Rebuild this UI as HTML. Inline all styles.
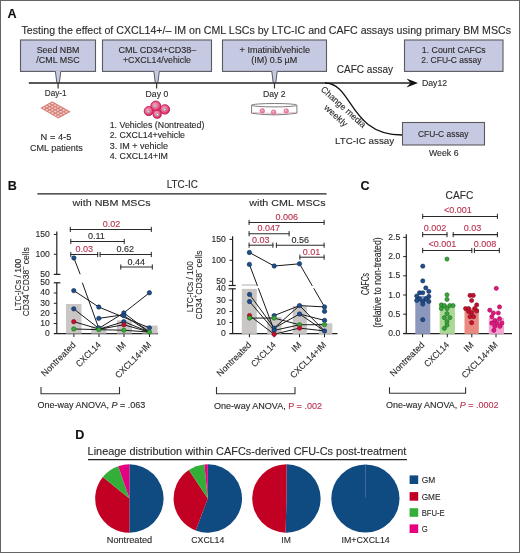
<!DOCTYPE html>
<html><head><meta charset="utf-8"><style>
html,body{margin:0;padding:0;background:#fff;}
.fig{position:relative;width:518px;height:551px;border:1px solid #646464;overflow:hidden;background:#fff;}
svg{position:absolute;left:-1px;top:-1px;will-change:transform;}
text{font-family:"Liberation Sans", sans-serif;}
</style></head><body><div class="fig">
<svg width="520" height="553" viewBox="0 0 520 553" font-family='"Liberation Sans", sans-serif' fill="#2b2a29">
<text x="7.60" y="17.90" font-size="12.6" fill="#111" stroke="#111" stroke-width="0.12" font-weight="bold">A</text>
<text x="21.50" y="33.80" font-size="10.3" stroke="#2b2a29" stroke-width="0.12" textLength="489.50" lengthAdjust="spacingAndGlyphs">Testing the effect of CXCL14+/– IM on CML LSCs by LTC-IC and CAFC assays using primary BM MSCs</text>
<rect x="20.50" y="40.00" width="75.00" height="31.40" fill="#c6c9e2" stroke="#5a5a5e" stroke-width="1.1"/>
<rect x="102.50" y="40.00" width="109.00" height="31.40" fill="#c6c9e2" stroke="#5a5a5e" stroke-width="1.1"/>
<rect x="222.50" y="40.00" width="104.00" height="31.40" fill="#c6c9e2" stroke="#5a5a5e" stroke-width="1.1"/>
<rect x="404.50" y="40.00" width="98.50" height="31.40" fill="#c6c9e2" stroke="#5a5a5e" stroke-width="1.1"/>
<path d="M55.40 70.80 L56.70 82.5 L59.50 82.5 L60.80 70.80 Z" fill="#c6c9e2" stroke="none"/>
<path d="M55.40 71.40 L56.80 82.5 M60.80 71.40 L59.40 82.5" fill="none" stroke="#5a5a5e" stroke-width="1"/>
<line x1="58.10" y1="83.00" x2="58.10" y2="88.50" stroke="#333" stroke-width="1.2"/>
<path d="M153.90 70.80 L155.20 82.5 L158.00 82.5 L159.30 70.80 Z" fill="#c6c9e2" stroke="none"/>
<path d="M153.90 71.40 L155.30 82.5 M159.30 71.40 L157.90 82.5" fill="none" stroke="#5a5a5e" stroke-width="1"/>
<line x1="156.60" y1="83.00" x2="156.60" y2="88.50" stroke="#333" stroke-width="1.2"/>
<path d="M271.80 70.80 L273.10 82.5 L275.90 82.5 L277.20 70.80 Z" fill="#c6c9e2" stroke="none"/>
<path d="M271.80 71.40 L273.20 82.5 M277.20 71.40 L275.80 82.5" fill="none" stroke="#5a5a5e" stroke-width="1"/>
<line x1="274.50" y1="83.00" x2="274.50" y2="88.50" stroke="#333" stroke-width="1.2"/>
<text x="36.70" y="52.70" font-size="8.4" stroke="#2b2a29" stroke-width="0.12" textLength="42.70" lengthAdjust="spacingAndGlyphs">Seed NBM</text>
<text x="36.30" y="63.10" font-size="8.4" stroke="#2b2a29" stroke-width="0.12" textLength="43.30" lengthAdjust="spacingAndGlyphs">/CML MSC</text>
<text x="118.50" y="52.80" font-size="8.4" stroke="#2b2a29" stroke-width="0.12" textLength="77.80" lengthAdjust="spacingAndGlyphs">CML CD34+CD38–</text>
<text x="123.00" y="63.30" font-size="8.4" stroke="#2b2a29" stroke-width="0.12" textLength="68.00" lengthAdjust="spacingAndGlyphs">+CXCL14/vehicle</text>
<text x="239.60" y="53.00" font-size="8.4" stroke="#2b2a29" stroke-width="0.12" textLength="70.40" lengthAdjust="spacingAndGlyphs">+ Imatinib/vehicle</text>
<text x="251.20" y="63.40" font-size="8.4" stroke="#2b2a29" stroke-width="0.12" textLength="46.10" lengthAdjust="spacingAndGlyphs">(IM) 0.5 µM</text>
<text x="421.80" y="53.10" font-size="8.4" stroke="#2b2a29" stroke-width="0.12" textLength="63.90" lengthAdjust="spacingAndGlyphs">1. Count CAFCs</text>
<text x="421.20" y="63.40" font-size="8.4" stroke="#2b2a29" stroke-width="0.12" textLength="60.20" lengthAdjust="spacingAndGlyphs">2. CFU-C assay</text>
<line x1="28.80" y1="83.00" x2="410.00" y2="83.00" stroke="#222" stroke-width="1.6"/>
<path d="M418 83 L406.5 78.6 L410.5 83 L406.5 87.6 Z" fill="#111"/>
<text x="421.90" y="85.90" font-size="8.6" stroke="#2b2a29" stroke-width="0.12" textLength="25.20" lengthAdjust="spacingAndGlyphs">Day12</text>
<text x="336.80" y="72.70" font-size="10.2" stroke="#2b2a29" stroke-width="0.12" textLength="56.20" lengthAdjust="spacingAndGlyphs">CAFC assay</text>
<path d="M325 83 C353 83, 349 135, 402 135" fill="none" stroke="#111" stroke-width="1.3"/>
<rect x="402.50" y="122.50" width="82.00" height="22.50" fill="#c6c9e2" stroke="#5a5a5e" stroke-width="1.1"/>
<text x="418.00" y="136.50" font-size="9.0" stroke="#2b2a29" stroke-width="0.12" textLength="50.50" lengthAdjust="spacingAndGlyphs">CFU-C assay</text>
<text x="429.00" y="156.20" font-size="8.2" stroke="#2b2a29" stroke-width="0.12" textLength="29.50" lengthAdjust="spacingAndGlyphs">Week 6</text>
<text x="335.00" y="143.80" font-size="9.8" stroke="#2b2a29" stroke-width="0.12" textLength="59.20" lengthAdjust="spacingAndGlyphs">LTC-IC assay</text>
<text x="320.30" y="90.20" font-size="9.0" stroke="#2b2a29" stroke-width="0.12" textLength="57.00" lengthAdjust="spacingAndGlyphs" transform="rotate(42 320.30 90.20)">Change media</text>
<text x="323.60" y="108.60" font-size="9.0" stroke="#2b2a29" stroke-width="0.12" textLength="28.00" lengthAdjust="spacingAndGlyphs" transform="rotate(42 323.60 108.60)">weekly</text>
<text x="44.80" y="96.30" font-size="8.6" stroke="#2b2a29" stroke-width="0.12" textLength="21.70" lengthAdjust="spacingAndGlyphs">Day-1</text>
<text x="145.60" y="96.70" font-size="8.6" stroke="#2b2a29" stroke-width="0.12" textLength="22.60" lengthAdjust="spacingAndGlyphs">Day 0</text>
<text x="263.00" y="96.80" font-size="8.6" stroke="#2b2a29" stroke-width="0.12" textLength="22.70" lengthAdjust="spacingAndGlyphs">Day 2</text>
<polygon points="40.2,108 52.2,101.3 70.8,111.8 58.3,118.6" fill="#d98a82"/>
<ellipse cx="44.09" cy="108.09" rx="1.55" ry="1.25" fill="#f6cdc6" stroke="#c4615a" stroke-width="0.45"/>
<ellipse cx="46.92" cy="109.75" rx="1.55" ry="1.25" fill="#f6cdc6" stroke="#c4615a" stroke-width="0.45"/>
<ellipse cx="49.75" cy="111.41" rx="1.55" ry="1.25" fill="#f6cdc6" stroke="#c4615a" stroke-width="0.45"/>
<ellipse cx="52.57" cy="113.06" rx="1.55" ry="1.25" fill="#f6cdc6" stroke="#c4615a" stroke-width="0.45"/>
<ellipse cx="55.40" cy="114.72" rx="1.55" ry="1.25" fill="#f6cdc6" stroke="#c4615a" stroke-width="0.45"/>
<ellipse cx="58.23" cy="116.37" rx="1.55" ry="1.25" fill="#f6cdc6" stroke="#c4615a" stroke-width="0.45"/>
<ellipse cx="46.82" cy="106.57" rx="1.55" ry="1.25" fill="#f6cdc6" stroke="#c4615a" stroke-width="0.45"/>
<ellipse cx="49.64" cy="108.23" rx="1.55" ry="1.25" fill="#f6cdc6" stroke="#c4615a" stroke-width="0.45"/>
<ellipse cx="52.47" cy="109.88" rx="1.55" ry="1.25" fill="#f6cdc6" stroke="#c4615a" stroke-width="0.45"/>
<ellipse cx="55.30" cy="111.54" rx="1.55" ry="1.25" fill="#f6cdc6" stroke="#c4615a" stroke-width="0.45"/>
<ellipse cx="58.13" cy="113.20" rx="1.55" ry="1.25" fill="#f6cdc6" stroke="#c4615a" stroke-width="0.45"/>
<ellipse cx="60.96" cy="114.85" rx="1.55" ry="1.25" fill="#f6cdc6" stroke="#c4615a" stroke-width="0.45"/>
<ellipse cx="49.54" cy="105.05" rx="1.55" ry="1.25" fill="#f6cdc6" stroke="#c4615a" stroke-width="0.45"/>
<ellipse cx="52.37" cy="106.70" rx="1.55" ry="1.25" fill="#f6cdc6" stroke="#c4615a" stroke-width="0.45"/>
<ellipse cx="55.20" cy="108.36" rx="1.55" ry="1.25" fill="#f6cdc6" stroke="#c4615a" stroke-width="0.45"/>
<ellipse cx="58.03" cy="110.02" rx="1.55" ry="1.25" fill="#f6cdc6" stroke="#c4615a" stroke-width="0.45"/>
<ellipse cx="60.86" cy="111.67" rx="1.55" ry="1.25" fill="#f6cdc6" stroke="#c4615a" stroke-width="0.45"/>
<ellipse cx="63.68" cy="113.33" rx="1.55" ry="1.25" fill="#f6cdc6" stroke="#c4615a" stroke-width="0.45"/>
<ellipse cx="52.27" cy="103.53" rx="1.55" ry="1.25" fill="#f6cdc6" stroke="#c4615a" stroke-width="0.45"/>
<ellipse cx="55.10" cy="105.18" rx="1.55" ry="1.25" fill="#f6cdc6" stroke="#c4615a" stroke-width="0.45"/>
<ellipse cx="57.93" cy="106.84" rx="1.55" ry="1.25" fill="#f6cdc6" stroke="#c4615a" stroke-width="0.45"/>
<ellipse cx="60.75" cy="108.49" rx="1.55" ry="1.25" fill="#f6cdc6" stroke="#c4615a" stroke-width="0.45"/>
<ellipse cx="63.58" cy="110.15" rx="1.55" ry="1.25" fill="#f6cdc6" stroke="#c4615a" stroke-width="0.45"/>
<ellipse cx="66.41" cy="111.81" rx="1.55" ry="1.25" fill="#f6cdc6" stroke="#c4615a" stroke-width="0.45"/>
<text x="40.60" y="139.80" font-size="8.8" stroke="#2b2a29" stroke-width="0.12" textLength="30.70" lengthAdjust="spacingAndGlyphs">N = 4-5</text>
<text x="30.00" y="150.50" font-size="8.8" stroke="#2b2a29" stroke-width="0.12" textLength="52.80" lengthAdjust="spacingAndGlyphs">CML patients</text>
<defs><radialGradient id="cg" cx="0.42" cy="0.4" r="0.6"><stop offset="0" stop-color="#f7a9c0"/><stop offset="0.6" stop-color="#ec5f8a"/><stop offset="1" stop-color="#d1215a"/></radialGradient></defs>
<circle cx="155.80" cy="106.10" r="5.0" fill="url(#cg)" stroke="#c81d55" stroke-width="1.0"/>
<circle cx="148.70" cy="111.10" r="4.5" fill="url(#cg)" stroke="#c81d55" stroke-width="1.0"/>
<circle cx="164.90" cy="109.40" r="4.7" fill="url(#cg)" stroke="#c81d55" stroke-width="1.0"/>
<circle cx="157.20" cy="114.20" r="4.1" fill="url(#cg)" stroke="#c81d55" stroke-width="1.0"/>
<circle cx="148.40" cy="111.80" r="1.3" fill="#b7c4d2" stroke="#7f8fa3" stroke-width="0.5"/>
<circle cx="148.10" cy="111.50" r="0.5" fill="#ffffff"/>
<circle cx="155.30" cy="106.00" r="1.3" fill="#b7c4d2" stroke="#7f8fa3" stroke-width="0.5"/>
<circle cx="155.00" cy="105.70" r="0.5" fill="#ffffff"/>
<circle cx="164.60" cy="109.60" r="1.3" fill="#b7c4d2" stroke="#7f8fa3" stroke-width="0.5"/>
<circle cx="164.30" cy="109.30" r="0.5" fill="#ffffff"/>
<circle cx="157.60" cy="114.80" r="1.3" fill="#b7c4d2" stroke="#7f8fa3" stroke-width="0.5"/>
<circle cx="157.30" cy="114.50" r="0.5" fill="#ffffff"/>
<text x="109.70" y="128.10" font-size="8.4" stroke="#2b2a29" stroke-width="0.12" textLength="94.70" lengthAdjust="spacingAndGlyphs">1. Vehicles (Nontreated)</text>
<text x="109.70" y="138.40" font-size="8.4" stroke="#2b2a29" stroke-width="0.12" textLength="75.30" lengthAdjust="spacingAndGlyphs">2. CXCL14+vehicle</text>
<text x="109.70" y="148.80" font-size="8.4" stroke="#2b2a29" stroke-width="0.12" textLength="58.30" lengthAdjust="spacingAndGlyphs">3. IM + vehicle</text>
<text x="109.70" y="159.30" font-size="8.4" stroke="#2b2a29" stroke-width="0.12" textLength="58.30" lengthAdjust="spacingAndGlyphs">4. CXCL14+IM</text>
<path d="M251.6 105.2 L251.6 113.2 Q274 116.6 296.9 113.2 L296.9 105.2" fill="#fff" stroke="#7d7d7d" stroke-width="1.0"/>
<ellipse cx="274.25" cy="105.2" rx="22.65" ry="1.7" fill="#fff" stroke="#7d7d7d" stroke-width="1.0"/>
<path d="M252.5 112.3 Q274 115.2 296 112.3" fill="none" stroke="#e9b3c4" stroke-width="0.8"/>
<circle cx="262.30" cy="110.90" r="2.3" fill="#e98aac" stroke="#d4557f" stroke-width="0.6"/>
<circle cx="261.80" cy="110.30" r="0.8" fill="#f8c8d7"/>
<circle cx="273.60" cy="112.20" r="2.3" fill="#e98aac" stroke="#d4557f" stroke-width="0.6"/>
<circle cx="273.10" cy="111.60" r="0.8" fill="#f8c8d7"/>
<circle cx="286.20" cy="111.00" r="2.3" fill="#e98aac" stroke="#d4557f" stroke-width="0.6"/>
<circle cx="285.70" cy="110.40" r="0.8" fill="#f8c8d7"/>
<text x="7.80" y="189.60" font-size="12.6" fill="#111" stroke="#111" stroke-width="0.12" font-weight="bold">B</text>
<text x="166.70" y="187.80" font-size="10.0" stroke="#2b2a29" stroke-width="0.12" textLength="31.20" lengthAdjust="spacingAndGlyphs">LTC-IC</text>
<line x1="37.40" y1="193.80" x2="326.60" y2="193.80" stroke="#222" stroke-width="1.2"/>
<text x="72.60" y="206.20" font-size="9.8" stroke="#2b2a29" stroke-width="0.12" textLength="78.00" lengthAdjust="spacingAndGlyphs">with NBM MSCs</text>
<text x="249.30" y="206.20" font-size="9.8" stroke="#2b2a29" stroke-width="0.12" textLength="76.30" lengthAdjust="spacingAndGlyphs">with CML MSCs</text>
<text x="49.90" y="236.90" font-size="8.6" text-anchor="end" stroke="#2b2a29" stroke-width="0.12">150</text>
<text x="49.90" y="256.70" font-size="8.6" text-anchor="end" stroke="#2b2a29" stroke-width="0.12">100</text>
<text x="49.90" y="276.70" font-size="8.6" text-anchor="end" stroke="#2b2a29" stroke-width="0.12">50</text>
<text x="49.90" y="285.00" font-size="8.6" text-anchor="end" stroke="#2b2a29" stroke-width="0.12">50</text>
<text x="49.90" y="295.40" font-size="8.6" text-anchor="end" stroke="#2b2a29" stroke-width="0.12">40</text>
<text x="49.90" y="305.70" font-size="8.6" text-anchor="end" stroke="#2b2a29" stroke-width="0.12">30</text>
<text x="49.90" y="315.80" font-size="8.6" text-anchor="end" stroke="#2b2a29" stroke-width="0.12">20</text>
<text x="49.90" y="325.90" font-size="8.6" text-anchor="end" stroke="#2b2a29" stroke-width="0.12">10</text>
<text x="49.90" y="336.00" font-size="8.6" text-anchor="end" stroke="#2b2a29" stroke-width="0.12">0</text>
<line x1="53.80" y1="234.50" x2="56.80" y2="234.50" stroke="#222" stroke-width="1"/>
<line x1="53.80" y1="254.30" x2="56.80" y2="254.30" stroke="#222" stroke-width="1"/>
<line x1="53.80" y1="293.00" x2="56.80" y2="293.00" stroke="#222" stroke-width="1"/>
<line x1="53.80" y1="303.30" x2="56.80" y2="303.30" stroke="#222" stroke-width="1"/>
<line x1="53.80" y1="313.40" x2="56.80" y2="313.40" stroke="#222" stroke-width="1"/>
<line x1="53.80" y1="323.50" x2="56.80" y2="323.50" stroke="#222" stroke-width="1"/>
<line x1="56.80" y1="231.50" x2="56.80" y2="274.40" stroke="#222" stroke-width="1.2"/>
<line x1="53.80" y1="274.40" x2="60.40" y2="274.40" stroke="#222" stroke-width="1.2"/>
<line x1="56.80" y1="282.60" x2="56.80" y2="333.60" stroke="#222" stroke-width="1.2"/>
<line x1="53.80" y1="282.80" x2="60.40" y2="282.80" stroke="#222" stroke-width="1.2"/>
<line x1="53.80" y1="333.60" x2="158.00" y2="333.60" stroke="#222" stroke-width="1.3"/>
<line x1="73.90" y1="333.60" x2="73.90" y2="337.00" stroke="#222" stroke-width="1"/>
<line x1="99.00" y1="333.60" x2="99.00" y2="337.00" stroke="#222" stroke-width="1"/>
<line x1="124.00" y1="333.60" x2="124.00" y2="337.00" stroke="#222" stroke-width="1"/>
<line x1="149.50" y1="333.60" x2="149.50" y2="337.00" stroke="#222" stroke-width="1"/>
<rect x="66.00" y="304.00" width="15.50" height="29.60" fill="#cac6c6"/>
<rect x="91.20" y="326.50" width="15.20" height="7.10" fill="#cac6c6"/>
<rect x="116.90" y="320.30" width="15.00" height="13.30" fill="#cac6c6"/>
<rect x="142.40" y="325.60" width="15.20" height="8.00" fill="#cac6c6"/>
<line x1="82.35" y1="282.74" x2="98.80" y2="328.41" stroke="#1a1a1a" stroke-width="1.0"/>
<line x1="73.77" y1="290.60" x2="98.80" y2="307.04" stroke="#1a1a1a" stroke-width="1.0"/>
<line x1="98.80" y1="307.04" x2="149.40" y2="327.86" stroke="#1a1a1a" stroke-width="1.0"/>
<line x1="73.77" y1="308.86" x2="98.80" y2="328.41" stroke="#1a1a1a" stroke-width="1.0"/>
<line x1="73.77" y1="321.65" x2="98.80" y2="328.96" stroke="#1a1a1a" stroke-width="1.0"/>
<line x1="73.77" y1="328.96" x2="98.80" y2="329.69" stroke="#1a1a1a" stroke-width="1.0"/>
<line x1="98.80" y1="318.36" x2="123.82" y2="314.71" stroke="#1a1a1a" stroke-width="1.0"/>
<line x1="98.80" y1="328.41" x2="123.82" y2="312.88" stroke="#1a1a1a" stroke-width="1.0"/>
<line x1="123.82" y1="312.88" x2="149.40" y2="292.79" stroke="#1a1a1a" stroke-width="1.0"/>
<line x1="98.80" y1="329.32" x2="123.82" y2="321.65" stroke="#1a1a1a" stroke-width="1.0"/>
<line x1="98.80" y1="329.69" x2="123.82" y2="330.24" stroke="#1a1a1a" stroke-width="1.0"/>
<line x1="123.82" y1="315.62" x2="149.40" y2="332.06" stroke="#1a1a1a" stroke-width="1.0"/>
<line x1="123.82" y1="321.65" x2="149.40" y2="332.06" stroke="#1a1a1a" stroke-width="1.0"/>
<line x1="123.82" y1="324.76" x2="149.40" y2="332.06" stroke="#1a1a1a" stroke-width="1.0"/>
<line x1="123.82" y1="330.24" x2="149.40" y2="332.06" stroke="#1a1a1a" stroke-width="1.0"/>
<line x1="98.80" y1="329.32" x2="123.82" y2="324.76" stroke="#1a1a1a" stroke-width="1.0"/>
<line x1="123.82" y1="312.88" x2="149.40" y2="332.06" stroke="#1a1a1a" stroke-width="1.0"/>
<line x1="73.90" y1="258.00" x2="80.20" y2="274.20" stroke="#1a1a1a" stroke-width="1.0"/>
<circle cx="73.77" cy="290.60" r="2.2" fill="#1d4f8c" stroke="#0d2a52" stroke-width="0.6"/>
<circle cx="73.77" cy="308.86" r="2.2" fill="#1d4f8c" stroke="#0d2a52" stroke-width="0.6"/>
<circle cx="73.77" cy="321.65" r="2.2" fill="#c8102e" stroke="#7a0a1c" stroke-width="0.6"/>
<circle cx="73.77" cy="328.96" r="2.2" fill="#3aaa35" stroke="#1f6e22" stroke-width="0.6"/>
<circle cx="98.80" cy="307.04" r="2.2" fill="#1d4f8c" stroke="#0d2a52" stroke-width="0.6"/>
<circle cx="98.80" cy="318.36" r="2.2" fill="#1d4f8c" stroke="#0d2a52" stroke-width="0.6"/>
<circle cx="98.80" cy="327.86" r="2.2" fill="#1d4f8c" stroke="#0d2a52" stroke-width="0.6"/>
<circle cx="98.80" cy="329.69" r="2.2" fill="#3aaa35" stroke="#1f6e22" stroke-width="0.6"/>
<circle cx="123.82" cy="312.88" r="2.2" fill="#1d4f8c" stroke="#0d2a52" stroke-width="0.6"/>
<circle cx="123.82" cy="315.62" r="2.2" fill="#1d4f8c" stroke="#0d2a52" stroke-width="0.6"/>
<circle cx="123.82" cy="321.65" r="2.2" fill="#1d4f8c" stroke="#0d2a52" stroke-width="0.6"/>
<circle cx="123.82" cy="324.76" r="2.2" fill="#c8102e" stroke="#7a0a1c" stroke-width="0.6"/>
<circle cx="123.82" cy="330.24" r="2.2" fill="#3aaa35" stroke="#1f6e22" stroke-width="0.6"/>
<circle cx="149.40" cy="292.79" r="2.2" fill="#1d4f8c" stroke="#0d2a52" stroke-width="0.6"/>
<circle cx="149.40" cy="327.86" r="2.2" fill="#1d4f8c" stroke="#0d2a52" stroke-width="0.6"/>
<circle cx="149.40" cy="332.06" r="2.2" fill="#3aaa35" stroke="#1f6e22" stroke-width="0.6"/>
<circle cx="73.90" cy="258.00" r="2.2" fill="#1d4f8c" stroke="#0d2a52" stroke-width="0.6"/>
<line x1="69.80" y1="229.40" x2="151.80" y2="229.40" stroke="#2a2a2a" stroke-width="1.05"/>
<line x1="70.30" y1="226.80" x2="70.30" y2="232.00" stroke="#2a2a2a" stroke-width="1.0"/>
<line x1="151.30" y1="226.80" x2="151.30" y2="232.00" stroke="#2a2a2a" stroke-width="1.0"/>
<text x="111.50" y="226.90" font-size="9.0" text-anchor="middle" fill="#b8324e" stroke="#b8324e" stroke-width="0.12">0.02</text>
<line x1="70.30" y1="241.50" x2="124.70" y2="241.50" stroke="#2a2a2a" stroke-width="1.05"/>
<line x1="70.80" y1="238.90" x2="70.80" y2="244.10" stroke="#2a2a2a" stroke-width="1.0"/>
<line x1="124.20" y1="238.90" x2="124.20" y2="244.10" stroke="#2a2a2a" stroke-width="1.0"/>
<text x="96.40" y="239.00" font-size="9.0" text-anchor="middle" stroke="#2b2a29" stroke-width="0.12">0.11</text>
<line x1="70.30" y1="254.50" x2="98.20" y2="254.50" stroke="#2a2a2a" stroke-width="1.05"/>
<line x1="70.80" y1="251.90" x2="70.80" y2="257.10" stroke="#2a2a2a" stroke-width="1.0"/>
<line x1="97.70" y1="251.90" x2="97.70" y2="257.10" stroke="#2a2a2a" stroke-width="1.0"/>
<text x="84.20" y="252.00" font-size="9.0" text-anchor="middle" fill="#b8324e" stroke="#b8324e" stroke-width="0.12">0.03</text>
<line x1="99.60" y1="254.50" x2="151.80" y2="254.50" stroke="#2a2a2a" stroke-width="1.05"/>
<line x1="100.10" y1="251.90" x2="100.10" y2="257.10" stroke="#2a2a2a" stroke-width="1.0"/>
<line x1="151.30" y1="251.90" x2="151.30" y2="257.10" stroke="#2a2a2a" stroke-width="1.0"/>
<text x="125.20" y="252.00" font-size="9.0" text-anchor="middle" stroke="#2b2a29" stroke-width="0.12">0.62</text>
<line x1="120.30" y1="267.00" x2="152.80" y2="267.00" stroke="#2a2a2a" stroke-width="1.05"/>
<line x1="120.80" y1="264.40" x2="120.80" y2="269.60" stroke="#2a2a2a" stroke-width="1.0"/>
<line x1="152.30" y1="264.40" x2="152.30" y2="269.60" stroke="#2a2a2a" stroke-width="1.0"/>
<text x="136.20" y="264.50" font-size="9.0" text-anchor="middle" stroke="#2b2a29" stroke-width="0.12">0.44</text>
<text x="20.70" y="284.70" font-size="9.8" text-anchor="middle" stroke="#2b2a29" stroke-width="0.12" textLength="52.00" lengthAdjust="spacingAndGlyphs" transform="rotate(-90 20.70 284.70)">LTC-ICs / 100</text>
<text x="29.1" y="281.8" font-size="9.8" text-anchor="middle" textLength="69.0" lengthAdjust="spacingAndGlyphs" stroke="#2b2a29" stroke-width="0.12" transform="rotate(-90 29.1 281.8)">CD34<tspan font-size="6.5" dy="-3.6">+</tspan><tspan dy="3.6">CD38</tspan><tspan font-size="6.5" dy="-3.6">–</tspan><tspan dy="3.6"> cells</tspan></text>
<text x="225.90" y="241.90" font-size="8.6" text-anchor="end" stroke="#2b2a29" stroke-width="0.12">150</text>
<text x="225.90" y="262.80" font-size="8.6" text-anchor="end" stroke="#2b2a29" stroke-width="0.12">100</text>
<text x="225.90" y="283.80" font-size="8.6" text-anchor="end" stroke="#2b2a29" stroke-width="0.12">50</text>
<text x="225.90" y="291.40" font-size="8.6" text-anchor="end" stroke="#2b2a29" stroke-width="0.12">40</text>
<text x="225.90" y="302.70" font-size="8.6" text-anchor="end" stroke="#2b2a29" stroke-width="0.12">30</text>
<text x="225.90" y="314.00" font-size="8.6" text-anchor="end" stroke="#2b2a29" stroke-width="0.12">20</text>
<text x="225.90" y="325.00" font-size="8.6" text-anchor="end" stroke="#2b2a29" stroke-width="0.12">10</text>
<text x="225.90" y="336.40" font-size="8.6" text-anchor="end" stroke="#2b2a29" stroke-width="0.12">0</text>
<line x1="229.50" y1="239.40" x2="232.60" y2="239.40" stroke="#222" stroke-width="1"/>
<line x1="229.50" y1="260.30" x2="232.60" y2="260.30" stroke="#222" stroke-width="1"/>
<line x1="229.50" y1="281.30" x2="232.60" y2="281.30" stroke="#222" stroke-width="1"/>
<line x1="229.50" y1="300.20" x2="232.60" y2="300.20" stroke="#222" stroke-width="1"/>
<line x1="229.50" y1="311.50" x2="232.60" y2="311.50" stroke="#222" stroke-width="1"/>
<line x1="229.50" y1="322.50" x2="232.60" y2="322.50" stroke="#222" stroke-width="1"/>
<line x1="232.60" y1="236.20" x2="232.60" y2="285.60" stroke="#222" stroke-width="1.2"/>
<line x1="232.60" y1="288.60" x2="232.60" y2="333.90" stroke="#222" stroke-width="1.2"/>
<line x1="228.60" y1="285.50" x2="235.80" y2="285.50" stroke="#222" stroke-width="1.2"/>
<line x1="228.60" y1="288.80" x2="235.80" y2="288.80" stroke="#222" stroke-width="1.2"/>
<line x1="229.30" y1="333.60" x2="337.50" y2="333.60" stroke="#222" stroke-width="1.3"/>
<line x1="249.40" y1="333.90" x2="249.40" y2="337.30" stroke="#222" stroke-width="1"/>
<line x1="274.20" y1="333.90" x2="274.20" y2="337.30" stroke="#222" stroke-width="1"/>
<line x1="299.50" y1="333.90" x2="299.50" y2="337.30" stroke="#222" stroke-width="1"/>
<line x1="324.50" y1="333.90" x2="324.50" y2="337.30" stroke="#222" stroke-width="1"/>
<rect x="241.80" y="288.80" width="15.00" height="45.10" fill="#cac6c6"/>
<rect x="241.80" y="284.30" width="15.00" height="1.50" fill="#cac6c6"/>
<rect x="267.20" y="317.00" width="14.20" height="16.90" fill="#cac6c6"/>
<rect x="292.80" y="306.00" width="14.00" height="27.90" fill="#cac6c6"/>
<rect x="318.80" y="323.30" width="13.50" height="10.60" fill="#cac6c6"/>
<line x1="249.54" y1="294.42" x2="274.15" y2="328.08" stroke="#1a1a1a" stroke-width="1.0"/>
<line x1="249.54" y1="301.54" x2="274.15" y2="330.38" stroke="#1a1a1a" stroke-width="1.0"/>
<line x1="249.54" y1="315.58" x2="274.15" y2="334.23" stroke="#1a1a1a" stroke-width="1.0"/>
<line x1="249.54" y1="318.08" x2="274.15" y2="318.08" stroke="#1a1a1a" stroke-width="1.0"/>
<line x1="274.15" y1="315.58" x2="299.54" y2="305.58" stroke="#1a1a1a" stroke-width="1.0"/>
<line x1="299.54" y1="305.58" x2="324.54" y2="306.92" stroke="#1a1a1a" stroke-width="1.0"/>
<line x1="299.54" y1="305.58" x2="324.54" y2="330.96" stroke="#1a1a1a" stroke-width="1.0"/>
<line x1="274.15" y1="328.08" x2="299.54" y2="305.58" stroke="#1a1a1a" stroke-width="1.0"/>
<line x1="274.15" y1="328.08" x2="299.54" y2="314.04" stroke="#1a1a1a" stroke-width="1.0"/>
<line x1="299.54" y1="314.04" x2="324.54" y2="330.96" stroke="#1a1a1a" stroke-width="1.0"/>
<line x1="274.15" y1="330.38" x2="299.54" y2="324.81" stroke="#1a1a1a" stroke-width="1.0"/>
<line x1="274.15" y1="334.23" x2="299.54" y2="328.08" stroke="#1a1a1a" stroke-width="1.0"/>
<line x1="299.54" y1="328.08" x2="324.54" y2="330.96" stroke="#1a1a1a" stroke-width="1.0"/>
<line x1="299.54" y1="324.81" x2="324.54" y2="324.62" stroke="#1a1a1a" stroke-width="1.0"/>
<line x1="274.15" y1="318.08" x2="299.54" y2="324.81" stroke="#1a1a1a" stroke-width="1.0"/>
<line x1="299.54" y1="314.04" x2="324.54" y2="320.38" stroke="#1a1a1a" stroke-width="1.0"/>
<line x1="249.40" y1="252.50" x2="274.20" y2="266.00" stroke="#1a1a1a" stroke-width="1.0"/>
<line x1="274.20" y1="266.00" x2="299.50" y2="263.80" stroke="#1a1a1a" stroke-width="1.0"/>
<line x1="299.50" y1="263.80" x2="324.50" y2="306.90" stroke="#1a1a1a" stroke-width="1.0"/>
<line x1="249.40" y1="264.40" x2="274.20" y2="330.40" stroke="#1a1a1a" stroke-width="1.0"/>
<rect x="237" y="285.9" width="100" height="2.4" fill="#fff"/>
<circle cx="249.54" cy="294.42" r="2.2" fill="#1d4f8c" stroke="#0d2a52" stroke-width="0.6"/>
<circle cx="249.54" cy="301.54" r="2.2" fill="#1d4f8c" stroke="#0d2a52" stroke-width="0.6"/>
<circle cx="249.54" cy="315.58" r="2.2" fill="#c8102e" stroke="#7a0a1c" stroke-width="0.6"/>
<circle cx="249.54" cy="318.08" r="2.2" fill="#3aaa35" stroke="#1f6e22" stroke-width="0.6"/>
<circle cx="274.15" cy="315.58" r="2.2" fill="#1d4f8c" stroke="#0d2a52" stroke-width="0.6"/>
<circle cx="274.15" cy="318.08" r="2.2" fill="#3aaa35" stroke="#1f6e22" stroke-width="0.6"/>
<circle cx="274.15" cy="328.08" r="2.2" fill="#1d4f8c" stroke="#0d2a52" stroke-width="0.6"/>
<circle cx="274.15" cy="330.38" r="2.2" fill="#1d4f8c" stroke="#0d2a52" stroke-width="0.6"/>
<circle cx="274.15" cy="334.23" r="2.2" fill="#c8102e" stroke="#7a0a1c" stroke-width="0.6"/>
<circle cx="299.54" cy="305.58" r="2.2" fill="#1d4f8c" stroke="#0d2a52" stroke-width="0.6"/>
<circle cx="299.54" cy="314.04" r="2.2" fill="#1d4f8c" stroke="#0d2a52" stroke-width="0.6"/>
<circle cx="299.54" cy="324.81" r="2.2" fill="#3aaa35" stroke="#1f6e22" stroke-width="0.6"/>
<circle cx="299.54" cy="328.08" r="2.2" fill="#c8102e" stroke="#7a0a1c" stroke-width="0.6"/>
<circle cx="324.54" cy="306.92" r="2.2" fill="#1d4f8c" stroke="#0d2a52" stroke-width="0.6"/>
<circle cx="324.54" cy="311.35" r="2.2" fill="#1d4f8c" stroke="#0d2a52" stroke-width="0.6"/>
<circle cx="324.54" cy="320.38" r="2.2" fill="#1d4f8c" stroke="#0d2a52" stroke-width="0.6"/>
<circle cx="324.54" cy="324.62" r="2.2" fill="#3aaa35" stroke="#1f6e22" stroke-width="0.6"/>
<circle cx="324.54" cy="330.96" r="2.2" fill="#1d4f8c" stroke="#0d2a52" stroke-width="0.6"/>
<circle cx="249.40" cy="252.50" r="2.2" fill="#1d4f8c" stroke="#0d2a52" stroke-width="0.6"/>
<circle cx="249.40" cy="264.40" r="2.2" fill="#1d4f8c" stroke="#0d2a52" stroke-width="0.6"/>
<circle cx="274.20" cy="266.00" r="2.2" fill="#1d4f8c" stroke="#0d2a52" stroke-width="0.6"/>
<circle cx="299.50" cy="263.80" r="2.2" fill="#1d4f8c" stroke="#0d2a52" stroke-width="0.6"/>
<line x1="248.60" y1="222.40" x2="324.60" y2="222.40" stroke="#2a2a2a" stroke-width="1.05"/>
<line x1="249.10" y1="219.80" x2="249.10" y2="225.00" stroke="#2a2a2a" stroke-width="1.0"/>
<line x1="324.10" y1="219.80" x2="324.10" y2="225.00" stroke="#2a2a2a" stroke-width="1.0"/>
<text x="286.70" y="219.90" font-size="9.0" text-anchor="middle" fill="#b8324e" stroke="#b8324e" stroke-width="0.12">0.006</text>
<line x1="248.60" y1="233.70" x2="289.60" y2="233.70" stroke="#2a2a2a" stroke-width="1.05"/>
<line x1="249.10" y1="231.10" x2="249.10" y2="236.30" stroke="#2a2a2a" stroke-width="1.0"/>
<line x1="289.10" y1="231.10" x2="289.10" y2="236.30" stroke="#2a2a2a" stroke-width="1.0"/>
<text x="268.70" y="231.20" font-size="9.0" text-anchor="middle" fill="#b8324e" stroke="#b8324e" stroke-width="0.12">0.047</text>
<line x1="248.60" y1="245.20" x2="273.40" y2="245.20" stroke="#2a2a2a" stroke-width="1.05"/>
<line x1="249.10" y1="242.60" x2="249.10" y2="247.80" stroke="#2a2a2a" stroke-width="1.0"/>
<line x1="272.90" y1="242.60" x2="272.90" y2="247.80" stroke="#2a2a2a" stroke-width="1.0"/>
<text x="260.80" y="242.70" font-size="9.0" text-anchor="middle" fill="#b8324e" stroke="#b8324e" stroke-width="0.12">0.03</text>
<line x1="275.90" y1="245.20" x2="324.60" y2="245.20" stroke="#2a2a2a" stroke-width="1.05"/>
<line x1="276.40" y1="242.60" x2="276.40" y2="247.80" stroke="#2a2a2a" stroke-width="1.0"/>
<line x1="324.10" y1="242.60" x2="324.10" y2="247.80" stroke="#2a2a2a" stroke-width="1.0"/>
<text x="300.20" y="242.70" font-size="9.0" text-anchor="middle" stroke="#2b2a29" stroke-width="0.12">0.56</text>
<line x1="299.40" y1="257.20" x2="324.60" y2="257.20" stroke="#2a2a2a" stroke-width="1.05"/>
<line x1="299.90" y1="254.60" x2="299.90" y2="259.80" stroke="#2a2a2a" stroke-width="1.0"/>
<line x1="324.10" y1="254.60" x2="324.10" y2="259.80" stroke="#2a2a2a" stroke-width="1.0"/>
<text x="311.60" y="254.70" font-size="9.0" text-anchor="middle" fill="#b8324e" stroke="#b8324e" stroke-width="0.12">0.01</text>
<text x="192.70" y="286.70" font-size="9.8" text-anchor="middle" stroke="#2b2a29" stroke-width="0.12" textLength="51.20" lengthAdjust="spacingAndGlyphs" transform="rotate(-90 192.70 286.70)">LTC-ICs / 100</text>
<text x="201.9" y="285.1" font-size="9.8" text-anchor="middle" textLength="69.0" lengthAdjust="spacingAndGlyphs" stroke="#2b2a29" stroke-width="0.12" transform="rotate(-90 201.9 285.1)">CD34<tspan font-size="6.5" dy="-3.6">+</tspan><tspan dy="3.6">CD38</tspan><tspan font-size="6.5" dy="-3.6">–</tspan><tspan dy="3.6"> cells</tspan></text>
<text x="76.30" y="345.50" font-size="9.0" text-anchor="end" stroke="#2b2a29" stroke-width="0.12" textLength="44.50" lengthAdjust="spacingAndGlyphs" transform="rotate(-45 76.30 345.50)">Nontreated</text>
<text x="101.40" y="345.50" font-size="9.0" text-anchor="end" stroke="#2b2a29" stroke-width="0.12" textLength="31.00" lengthAdjust="spacingAndGlyphs" transform="rotate(-45 101.40 345.50)">CXCL14</text>
<text x="126.40" y="345.50" font-size="9.0" text-anchor="end" stroke="#2b2a29" stroke-width="0.12" textLength="9.80" lengthAdjust="spacingAndGlyphs" transform="rotate(-45 126.40 345.50)">IM</text>
<text x="151.90" y="345.50" font-size="9.0" text-anchor="end" stroke="#2b2a29" stroke-width="0.12" textLength="47.00" lengthAdjust="spacingAndGlyphs" transform="rotate(-45 151.90 345.50)">CXCL14+IM</text>
<text x="251.80" y="345.50" font-size="9.0" text-anchor="end" stroke="#2b2a29" stroke-width="0.12" textLength="44.50" lengthAdjust="spacingAndGlyphs" transform="rotate(-45 251.80 345.50)">Nontreated</text>
<text x="276.60" y="345.50" font-size="9.0" text-anchor="end" stroke="#2b2a29" stroke-width="0.12" textLength="31.00" lengthAdjust="spacingAndGlyphs" transform="rotate(-45 276.60 345.50)">CXCL14</text>
<text x="301.90" y="345.50" font-size="9.0" text-anchor="end" stroke="#2b2a29" stroke-width="0.12" textLength="9.80" lengthAdjust="spacingAndGlyphs" transform="rotate(-45 301.90 345.50)">IM</text>
<text x="326.90" y="345.50" font-size="9.0" text-anchor="end" stroke="#2b2a29" stroke-width="0.12" textLength="47.00" lengthAdjust="spacingAndGlyphs" transform="rotate(-45 326.90 345.50)">CXCL14+IM</text>
<text x="425.00" y="345.50" font-size="9.0" text-anchor="end" stroke="#2b2a29" stroke-width="0.12" textLength="44.50" lengthAdjust="spacingAndGlyphs" transform="rotate(-45 425.00 345.50)">Nontreated</text>
<text x="449.70" y="345.50" font-size="9.0" text-anchor="end" stroke="#2b2a29" stroke-width="0.12" textLength="31.00" lengthAdjust="spacingAndGlyphs" transform="rotate(-45 449.70 345.50)">CXCL14</text>
<text x="474.20" y="345.50" font-size="9.0" text-anchor="end" stroke="#2b2a29" stroke-width="0.12" textLength="9.80" lengthAdjust="spacingAndGlyphs" transform="rotate(-45 474.20 345.50)">IM</text>
<text x="498.40" y="345.50" font-size="9.0" text-anchor="end" stroke="#2b2a29" stroke-width="0.12" textLength="47.00" lengthAdjust="spacingAndGlyphs" transform="rotate(-45 498.40 345.50)">CXCL14+IM</text>
<path d="M41.00 387.00 L41.00 393.80 L119.50 393.80 L119.50 387.00" fill="none" stroke="#333" stroke-width="1.1"/>
<path d="M216.50 387.00 L216.50 393.80 L295.00 393.80 L295.00 387.00" fill="none" stroke="#333" stroke-width="1.1"/>
<path d="M389.50 387.20 L389.50 393.30 L465.60 393.30 L465.60 387.20" fill="none" stroke="#333" stroke-width="1.1"/>
<text x="37.4" y="408.3" font-size="8.8" textLength="108" lengthAdjust="spacingAndGlyphs" fill="#2b2a29" stroke="#2b2a29" stroke-width="0.12">One-way ANOVA, <tspan font-style="italic">P</tspan> = .063</text>
<text x="214.0" y="408.6" font-size="8.8" textLength="108" lengthAdjust="spacingAndGlyphs" fill="#2b2a29" stroke="#2b2a29" stroke-width="0.12">One-way ANOVA, <tspan fill="#b8324e" stroke="#b8324e">P = .002</tspan></text>
<text x="386.0" y="408.4" font-size="8.8" textLength="112.5" lengthAdjust="spacingAndGlyphs" fill="#2b2a29" stroke="#2b2a29" stroke-width="0.12">One-way ANOVA, <tspan fill="#b8324e" stroke="#b8324e"><tspan font-style="italic">P</tspan> = .0002</tspan></text>
<text x="360.60" y="189.60" font-size="12.6" fill="#111" stroke="#111" stroke-width="0.12" font-weight="bold">C</text>
<text x="445.60" y="199.20" font-size="10.2" stroke="#2b2a29" stroke-width="0.12" textLength="27.70" lengthAdjust="spacingAndGlyphs">CAFC</text>
<text x="400.20" y="239.90" font-size="8.6" text-anchor="end" stroke="#2b2a29" stroke-width="0.12">2.5</text>
<line x1="403.20" y1="237.40" x2="406.30" y2="237.40" stroke="#222" stroke-width="1"/>
<text x="400.20" y="259.10" font-size="8.6" text-anchor="end" stroke="#2b2a29" stroke-width="0.12">2.0</text>
<line x1="403.20" y1="256.60" x2="406.30" y2="256.60" stroke="#222" stroke-width="1"/>
<text x="400.20" y="278.30" font-size="8.6" text-anchor="end" stroke="#2b2a29" stroke-width="0.12">1.5</text>
<line x1="403.20" y1="275.80" x2="406.30" y2="275.80" stroke="#222" stroke-width="1"/>
<text x="400.20" y="297.50" font-size="8.6" text-anchor="end" stroke="#2b2a29" stroke-width="0.12">1.0</text>
<line x1="403.20" y1="295.00" x2="406.30" y2="295.00" stroke="#222" stroke-width="1"/>
<text x="400.20" y="316.70" font-size="8.6" text-anchor="end" stroke="#2b2a29" stroke-width="0.12">0.5</text>
<line x1="403.20" y1="314.20" x2="406.30" y2="314.20" stroke="#222" stroke-width="1"/>
<text x="400.20" y="335.90" font-size="8.6" text-anchor="end" stroke="#2b2a29" stroke-width="0.12">0.0</text>
<line x1="403.20" y1="333.40" x2="406.30" y2="333.40" stroke="#222" stroke-width="1"/>
<line x1="406.30" y1="234.30" x2="406.30" y2="333.90" stroke="#222" stroke-width="1.2"/>
<line x1="403.20" y1="333.60" x2="512.00" y2="333.60" stroke="#222" stroke-width="1.3"/>
<line x1="422.60" y1="333.90" x2="422.60" y2="337.30" stroke="#222" stroke-width="1"/>
<line x1="447.30" y1="333.90" x2="447.30" y2="337.30" stroke="#222" stroke-width="1"/>
<line x1="471.80" y1="333.90" x2="471.80" y2="337.30" stroke="#222" stroke-width="1"/>
<line x1="496.00" y1="333.90" x2="496.00" y2="337.30" stroke="#222" stroke-width="1"/>
<rect x="415.30" y="296.00" width="15.00" height="37.90" fill="#8b98bb"/>
<rect x="439.70" y="305.30" width="15.20" height="28.60" fill="#acd896"/>
<rect x="464.50" y="308.40" width="14.30" height="25.50" fill="#e98a80"/>
<rect x="488.80" y="318.20" width="15.20" height="15.70" fill="#f6a4d4"/>
<circle cx="422.77" cy="266.16" r="2.1" fill="#1f4f8e" stroke="#0d2a52" stroke-width="0.6"/>
<circle cx="422.77" cy="280.90" r="2.1" fill="#1f4f8e" stroke="#0d2a52" stroke-width="0.6"/>
<circle cx="425.80" cy="287.96" r="2.1" fill="#1f4f8e" stroke="#0d2a52" stroke-width="0.6"/>
<circle cx="428.83" cy="291.40" r="2.1" fill="#1f4f8e" stroke="#0d2a52" stroke-width="0.6"/>
<circle cx="419.54" cy="292.81" r="2.1" fill="#1f4f8e" stroke="#0d2a52" stroke-width="0.6"/>
<circle cx="422.77" cy="292.81" r="2.1" fill="#1f4f8e" stroke="#0d2a52" stroke-width="0.6"/>
<circle cx="416.71" cy="296.04" r="2.1" fill="#1f4f8e" stroke="#0d2a52" stroke-width="0.6"/>
<circle cx="428.83" cy="296.45" r="2.1" fill="#1f4f8e" stroke="#0d2a52" stroke-width="0.6"/>
<circle cx="419.54" cy="298.87" r="2.1" fill="#1f4f8e" stroke="#0d2a52" stroke-width="0.6"/>
<circle cx="425.80" cy="298.87" r="2.1" fill="#1f4f8e" stroke="#0d2a52" stroke-width="0.6"/>
<circle cx="416.71" cy="300.48" r="2.1" fill="#1f4f8e" stroke="#0d2a52" stroke-width="0.6"/>
<circle cx="422.77" cy="301.49" r="2.1" fill="#1f4f8e" stroke="#0d2a52" stroke-width="0.6"/>
<circle cx="428.83" cy="301.49" r="2.1" fill="#1f4f8e" stroke="#0d2a52" stroke-width="0.6"/>
<circle cx="422.77" cy="304.12" r="2.1" fill="#1f4f8e" stroke="#0d2a52" stroke-width="0.6"/>
<circle cx="422.77" cy="319.67" r="2.1" fill="#1f4f8e" stroke="#0d2a52" stroke-width="0.6"/>
<circle cx="447.00" cy="259.09" r="2.1" fill="#3aa23a" stroke="#1f6e22" stroke-width="0.6"/>
<circle cx="447.00" cy="294.83" r="2.1" fill="#3aa23a" stroke="#1f6e22" stroke-width="0.6"/>
<circle cx="447.00" cy="299.47" r="2.1" fill="#3aa23a" stroke="#1f6e22" stroke-width="0.6"/>
<circle cx="441.35" cy="304.93" r="2.1" fill="#3aa23a" stroke="#1f6e22" stroke-width="0.6"/>
<circle cx="444.38" cy="305.53" r="2.1" fill="#3aa23a" stroke="#1f6e22" stroke-width="0.6"/>
<circle cx="449.83" cy="305.53" r="2.1" fill="#3aa23a" stroke="#1f6e22" stroke-width="0.6"/>
<circle cx="453.06" cy="305.53" r="2.1" fill="#3aa23a" stroke="#1f6e22" stroke-width="0.6"/>
<circle cx="441.35" cy="308.56" r="2.1" fill="#3aa23a" stroke="#1f6e22" stroke-width="0.6"/>
<circle cx="447.00" cy="308.56" r="2.1" fill="#3aa23a" stroke="#1f6e22" stroke-width="0.6"/>
<circle cx="447.00" cy="313.61" r="2.1" fill="#3aa23a" stroke="#1f6e22" stroke-width="0.6"/>
<circle cx="444.38" cy="317.65" r="2.1" fill="#3aa23a" stroke="#1f6e22" stroke-width="0.6"/>
<circle cx="449.83" cy="317.65" r="2.1" fill="#3aa23a" stroke="#1f6e22" stroke-width="0.6"/>
<circle cx="447.00" cy="321.69" r="2.1" fill="#3aa23a" stroke="#1f6e22" stroke-width="0.6"/>
<circle cx="447.00" cy="325.12" r="2.1" fill="#3aa23a" stroke="#1f6e22" stroke-width="0.6"/>
<circle cx="444.38" cy="328.35" r="2.1" fill="#3aa23a" stroke="#1f6e22" stroke-width="0.6"/>
<circle cx="470.02" cy="295.44" r="2.1" fill="#c8102e" stroke="#7a0a1c" stroke-width="0.6"/>
<circle cx="473.26" cy="295.44" r="2.1" fill="#c8102e" stroke="#7a0a1c" stroke-width="0.6"/>
<circle cx="471.64" cy="300.48" r="2.1" fill="#c8102e" stroke="#7a0a1c" stroke-width="0.6"/>
<circle cx="476.69" cy="304.93" r="2.1" fill="#c8102e" stroke="#7a0a1c" stroke-width="0.6"/>
<circle cx="465.58" cy="308.56" r="2.1" fill="#c8102e" stroke="#7a0a1c" stroke-width="0.6"/>
<circle cx="468.61" cy="308.56" r="2.1" fill="#c8102e" stroke="#7a0a1c" stroke-width="0.6"/>
<circle cx="474.67" cy="308.56" r="2.1" fill="#c8102e" stroke="#7a0a1c" stroke-width="0.6"/>
<circle cx="476.69" cy="310.99" r="2.1" fill="#c8102e" stroke="#7a0a1c" stroke-width="0.6"/>
<circle cx="468.61" cy="311.59" r="2.1" fill="#c8102e" stroke="#7a0a1c" stroke-width="0.6"/>
<circle cx="471.64" cy="312.60" r="2.1" fill="#c8102e" stroke="#7a0a1c" stroke-width="0.6"/>
<circle cx="470.02" cy="316.64" r="2.1" fill="#c8102e" stroke="#7a0a1c" stroke-width="0.6"/>
<circle cx="473.66" cy="316.64" r="2.1" fill="#c8102e" stroke="#7a0a1c" stroke-width="0.6"/>
<circle cx="471.64" cy="322.70" r="2.1" fill="#c8102e" stroke="#7a0a1c" stroke-width="0.6"/>
<circle cx="496.28" cy="288.37" r="2.1" fill="#e4157e" stroke="#9b0b55" stroke-width="0.6"/>
<circle cx="499.51" cy="306.95" r="2.1" fill="#e4157e" stroke="#9b0b55" stroke-width="0.6"/>
<circle cx="489.81" cy="310.18" r="2.1" fill="#e4157e" stroke="#9b0b55" stroke-width="0.6"/>
<circle cx="493.45" cy="313.00" r="2.1" fill="#e4157e" stroke="#9b0b55" stroke-width="0.6"/>
<circle cx="498.30" cy="313.00" r="2.1" fill="#e4157e" stroke="#9b0b55" stroke-width="0.6"/>
<circle cx="491.83" cy="316.64" r="2.1" fill="#e4157e" stroke="#9b0b55" stroke-width="0.6"/>
<circle cx="499.51" cy="318.66" r="2.1" fill="#e4157e" stroke="#9b0b55" stroke-width="0.6"/>
<circle cx="494.86" cy="320.68" r="2.1" fill="#e4157e" stroke="#9b0b55" stroke-width="0.6"/>
<circle cx="491.83" cy="323.10" r="2.1" fill="#e4157e" stroke="#9b0b55" stroke-width="0.6"/>
<circle cx="496.88" cy="323.10" r="2.1" fill="#e4157e" stroke="#9b0b55" stroke-width="0.6"/>
<circle cx="501.93" cy="323.10" r="2.1" fill="#e4157e" stroke="#9b0b55" stroke-width="0.6"/>
<circle cx="494.86" cy="326.33" r="2.1" fill="#e4157e" stroke="#9b0b55" stroke-width="0.6"/>
<circle cx="499.91" cy="326.33" r="2.1" fill="#e4157e" stroke="#9b0b55" stroke-width="0.6"/>
<circle cx="493.85" cy="330.37" r="2.1" fill="#e4157e" stroke="#9b0b55" stroke-width="0.6"/>
<line x1="422.20" y1="216.40" x2="497.90" y2="216.40" stroke="#2a2a2a" stroke-width="1.05"/>
<line x1="422.70" y1="213.80" x2="422.70" y2="219.00" stroke="#2a2a2a" stroke-width="1.0"/>
<line x1="497.40" y1="213.80" x2="497.40" y2="219.00" stroke="#2a2a2a" stroke-width="1.0"/>
<text x="457.80" y="213.00" font-size="9.0" text-anchor="middle" fill="#b8324e" stroke="#b8324e" stroke-width="0.12">&lt;0.001</text>
<line x1="422.20" y1="234.60" x2="447.50" y2="234.60" stroke="#2a2a2a" stroke-width="1.05"/>
<line x1="422.70" y1="232.00" x2="422.70" y2="237.20" stroke="#2a2a2a" stroke-width="1.0"/>
<line x1="447.00" y1="232.00" x2="447.00" y2="237.20" stroke="#2a2a2a" stroke-width="1.0"/>
<text x="435.00" y="231.00" font-size="9.0" text-anchor="middle" fill="#b8324e" stroke="#b8324e" stroke-width="0.12">0.002</text>
<line x1="452.70" y1="234.60" x2="497.90" y2="234.60" stroke="#2a2a2a" stroke-width="1.05"/>
<line x1="453.20" y1="232.00" x2="453.20" y2="237.20" stroke="#2a2a2a" stroke-width="1.0"/>
<line x1="497.40" y1="232.00" x2="497.40" y2="237.20" stroke="#2a2a2a" stroke-width="1.0"/>
<text x="472.50" y="231.00" font-size="9.0" text-anchor="middle" fill="#b8324e" stroke="#b8324e" stroke-width="0.12">0.03</text>
<line x1="422.20" y1="250.50" x2="472.30" y2="250.50" stroke="#2a2a2a" stroke-width="1.05"/>
<line x1="422.70" y1="247.90" x2="422.70" y2="253.10" stroke="#2a2a2a" stroke-width="1.0"/>
<line x1="471.80" y1="247.90" x2="471.80" y2="253.10" stroke="#2a2a2a" stroke-width="1.0"/>
<text x="442.30" y="246.90" font-size="9.0" text-anchor="middle" fill="#b8324e" stroke="#b8324e" stroke-width="0.12">&lt;0.001</text>
<line x1="473.90" y1="250.50" x2="499.80" y2="250.50" stroke="#2a2a2a" stroke-width="1.05"/>
<line x1="474.40" y1="247.90" x2="474.40" y2="253.10" stroke="#2a2a2a" stroke-width="1.0"/>
<line x1="499.30" y1="247.90" x2="499.30" y2="253.10" stroke="#2a2a2a" stroke-width="1.0"/>
<text x="484.90" y="246.90" font-size="9.0" text-anchor="middle" fill="#b8324e" stroke="#b8324e" stroke-width="0.12">0.008</text>
<text x="368.60" y="284.00" font-size="11.5" text-anchor="middle" stroke="#2b2a29" stroke-width="0.12" textLength="22.00" lengthAdjust="spacingAndGlyphs" transform="rotate(-90 368.60 284.00)">CAFCs</text>
<text x="380.90" y="282.60" font-size="11.0" text-anchor="middle" stroke="#2b2a29" stroke-width="0.12" textLength="90.50" lengthAdjust="spacingAndGlyphs" transform="rotate(-90 380.90 282.60)">(relative to non-treated)</text>
<text x="75.20" y="439.00" font-size="12.6" fill="#111" stroke="#111" stroke-width="0.12" font-weight="bold">D</text>
<text x="87.60" y="455.00" font-size="10.5" stroke="#2b2a29" stroke-width="0.12" textLength="318.80" lengthAdjust="spacingAndGlyphs">Lineage distribution within CAFCs-derived CFU-Cs post-treatment</text>
<line x1="88.00" y1="459.70" x2="407.00" y2="459.70" stroke="#222" stroke-width="1.2"/>
<path d="M129.40 498.50 L129.40 464.30 A34.2 34.2 0 0 1 129.40 532.70 Z" fill="#0f4a80"/>
<path d="M129.40 498.50 L129.40 532.70 A34.2 34.2 0 0 1 102.82 476.98 Z" fill="#c10023"/>
<path d="M129.40 498.50 L102.82 476.98 A34.2 34.2 0 0 1 118.27 466.16 Z" fill="#33ae38"/>
<path d="M129.40 498.50 L118.27 466.16 A34.2 34.2 0 0 1 129.40 464.30 Z" fill="#e5007f"/>
<path d="M207.80 498.50 L207.80 464.30 A34.2 34.2 0 1 1 195.77 530.51 Z" fill="#0f4a80"/>
<path d="M207.80 498.50 L195.77 530.51 A34.2 34.2 0 0 1 188.82 470.05 Z" fill="#c10023"/>
<path d="M207.80 498.50 L188.82 470.05 A34.2 34.2 0 0 1 204.40 464.47 Z" fill="#33ae38"/>
<path d="M207.80 498.50 L204.40 464.47 A34.2 34.2 0 0 1 207.80 464.30 Z" fill="#e5007f"/>
<path d="M286.50 498.50 L286.50 464.30 A34.2 34.2 0 1 1 285.60 532.69 Z" fill="#0f4a80"/>
<path d="M286.50 498.50 L285.60 532.69 A34.2 34.2 0 0 1 286.50 464.30 Z" fill="#c10023"/>
<circle cx="365.40" cy="498.50" r="34.1" fill="#0f4a80"/>
<line x1="365.50" y1="464.80" x2="365.50" y2="497.50" stroke="#5d7fa8" stroke-width="0.6"/>
<text x="129.50" y="543.00" font-size="8.6" text-anchor="middle" stroke="#2b2a29" stroke-width="0.12" textLength="45.50" lengthAdjust="spacingAndGlyphs">Nontreated</text>
<text x="207.80" y="543.00" font-size="8.6" text-anchor="middle" stroke="#2b2a29" stroke-width="0.12" textLength="33.00" lengthAdjust="spacingAndGlyphs">CXCL14</text>
<text x="286.00" y="543.00" font-size="8.6" text-anchor="middle" stroke="#2b2a29" stroke-width="0.12" textLength="9.50" lengthAdjust="spacingAndGlyphs">IM</text>
<text x="365.60" y="543.00" font-size="8.6" text-anchor="middle" stroke="#2b2a29" stroke-width="0.12" textLength="48.30" lengthAdjust="spacingAndGlyphs">IM+CXCL14</text>
<rect x="409.60" y="475.40" width="8.60" height="8.60" fill="#0f4a80"/>
<text x="421.70" y="482.80" font-size="8.8" stroke="#2b2a29" stroke-width="0.12" textLength="13.50" lengthAdjust="spacingAndGlyphs">GM</text>
<rect x="409.60" y="492.10" width="8.60" height="8.60" fill="#c10023"/>
<text x="421.70" y="499.50" font-size="8.8" stroke="#2b2a29" stroke-width="0.12" textLength="18.80" lengthAdjust="spacingAndGlyphs">GME</text>
<rect x="409.60" y="508.20" width="8.60" height="8.60" fill="#33ae38"/>
<text x="421.70" y="515.60" font-size="8.8" stroke="#2b2a29" stroke-width="0.12" textLength="23.00" lengthAdjust="spacingAndGlyphs">BFU-E</text>
<rect x="409.60" y="524.40" width="8.60" height="8.60" fill="#e5007f"/>
<text x="421.70" y="531.80" font-size="8.8" stroke="#2b2a29" stroke-width="0.12" textLength="6.00" lengthAdjust="spacingAndGlyphs">G</text>
</svg></div></body></html>
